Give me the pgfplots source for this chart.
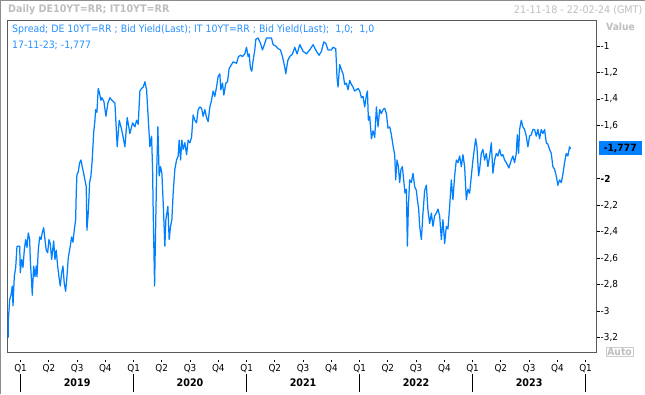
\documentclass[border=0pt]{standalone}
\usepackage{fontspec}
\setmainfont{DejaVu Sans}[FakeStretch=0.92]
\usepackage{pgfplots}
\pgfplotsset{compat=1.18}
\definecolor{lineblue}{RGB}{0,128,255}
\definecolor{txtblue}{RGB}{40,145,255}
\definecolor{hlblue}{RGB}{0,128,255}
\definecolor{ltgray}{RGB}{190,190,190}
\newcommand\ql[1]{\rule{0.8bp}{2bp}\\[0.2bp]Q#1}
\newcommand\fs[1]{\fontsize{#1bp}{#1bp}\selectfont}
\begin{document}
\begin{tikzpicture}
\fill[white] (0,0) rectangle (645bp,-394bp);
\draw[black!45, line width=1bp] (0.5bp,-394bp) -- (0.5bp,-0.5bp) -- (645bp,-0.5bp);
\begin{axis}[
  at={(7bp,-353bp)}, anchor=south west,
  width=590bp, height=333bp, scale only axis,
  xmin=7, xmax=597, ymin=-3.3135, ymax=-0.804,
  axis line style={draw=black!65, line width=0.8bp},
  font=\fs{9.6},
  ytick={-3.2,-3,-2.8,-2.6,-2.4,-2.2,-2,-1.6,-1.4,-1.2,-1},
  yticklabels={{-3,2},{-3},{-2,8},{-2,6},{-2,4},{-2,2},{\textbf{-2}},{-1,6},{-1,4},{-1,2},{-1}},
  ytick pos=right, yticklabel pos=right,
  major tick length=3bp, tick align=outside,
  ytick style={draw=black, line width=0.6bp},
  yticklabel style={inner sep=1bp, anchor=west},
  xtick={20.6,48.9,77.2,105.4,133.7,161.9,190.2,218.5,246.8,275.0,303.3,331.6,359.9,388.1,416.4,444.7,472.9,501.2,529.5,557.8,586.0},
  xticklabels={\ql1,\ql2,\ql3,\ql4,\ql1,\ql2,\ql3,\ql4,\ql1,\ql2,\ql3,\ql4,\ql1,\ql2,\ql3,\ql4,\ql1,\ql2,\ql3,\ql4,\ql1},
  xtick pos=bottom, xtick style={draw=none},
  xticklabel style={align=center, inner sep=0pt, yshift=-4bp},
  clip=true,
]
\addplot[lineblue, line width=1.25bp, line join=round] table[row sep=\\] {
x y\\
8.3 -3.20\\ 8.3 -3.08\\ 9.7 -2.91\\ 11 -2.88\\ 12.3 -2.81\\ 13 -2.96\\ 14.3 -2.74\\ 15.7 -2.67\\
17 -2.51\\ 19.7 -2.51\\ 20.3 -2.71\\ 21.7 -2.61\\ 23 -2.67\\ 24.3 -2.54\\ 25.7 -2.46\\ 27 -2.52\\
28.3 -2.41\\ 29.7 -2.46\\ 30.3 -2.61\\ 31.7 -2.79\\ 32.3 -2.88\\ 33.7 -2.66\\ 35 -2.74\\ 36.3 -2.66\\
37 -2.74\\ 38.3 -2.54\\ 39.7 -2.44\\ 41 -2.46\\ 42.3 -2.41\\ 43.7 -2.37\\ 45 -2.46\\ 46.3 -2.54\\
47.7 -2.56\\ 49 -2.46\\ 50.3 -2.49\\ 51.7 -2.61\\ 53.7 -2.47\\ 55 -2.61\\ 56.3 -2.54\\ 57.7 -2.66\\
59 -2.74\\ 60.3 -2.81\\ 61.7 -2.71\\ 63 -2.66\\ 64.3 -2.79\\ 65.7 -2.85\\ 67 -2.74\\ 68.3 -2.60\\
70.3 -2.51\\ 71.7 -2.44\\ 73 -2.48\\ 74.3 -2.39\\ 75.7 -2.31\\ 76.3 -2.11\\ 77 -1.97\\ 78.3 -1.95\\
79.7 -1.88\\ 81 -1.86\\ 82.3 -1.91\\ 83.7 -1.96\\ 85 -2.01\\ 86.3 -2.06\\ 87 -2.39\\ 88.3 -2.26\\
89.7 -2.03\\ 91 -1.98\\ 92.3 -1.86\\ 93.7 -1.66\\ 95 -1.56\\ 95.7 -1.48\\ 97 -1.50\\ 98.3 -1.32\\
99.7 -1.36\\ 101 -1.41\\ 102 -1.39\\ 104 -1.42\\ 106 -1.53\\ 108 -1.43\\ 110 -1.39\\ 112 -1.41\\
113.5 -1.42\\ 115 -1.43\\ 117.3 -1.76\\ 119.3 -1.56\\ 121.7 -1.63\\ 123 -1.68\\ 125 -1.76\\ 127.3 -1.54\\
130 -1.66\\ 132.7 -1.58\\ 135 -1.61\\ 136.7 -1.56\\ 138.3 -1.59\\ 140 -1.34\\ 141.7 -1.32\\ 143.3 -1.31\\
145 -1.27\\ 146.7 -1.33\\ 148.3 -1.54\\ 150 -1.76\\ 151.7 -1.68\\ 152.7 -1.93\\ 153.3 -2.24\\ 154.7 -2.81\\
155.3 -2.56\\ 156.7 -1.98\\ 158 -1.61\\ 159.3 -1.98\\ 160.7 -1.91\\ 162 -1.96\\ 163.3 -2.18\\ 165 -2.51\\
166 -2.31\\ 168 -2.21\\ 169.3 -2.46\\ 170.7 -2.36\\ 172 -2.31\\ 173.3 -2.11\\ 175 -1.93\\ 176.7 -1.86\\
178.3 -1.83\\ 179.3 -1.71\\ 180.7 -1.86\\ 182 -1.71\\ 183.3 -1.78\\ 185 -1.73\\ 186.7 -1.82\\ 188.3 -1.71\\
190 -1.73\\ 191.7 -1.69\\ 193.3 -1.52\\ 195 -1.56\\ 196.7 -1.58\\ 198.3 -1.48\\ 200 -1.46\\ 201.7 -1.47\\
203.3 -1.53\\ 205 -1.48\\ 206.7 -1.54\\ 208.3 -1.57\\ 210 -1.46\\ 211.7 -1.41\\ 213.3 -1.34\\ 215 -1.38\\
216.7 -1.31\\ 218.3 -1.23\\ 220 -1.21\\ 221 -1.33\\ 222.7 -1.28\\ 224 -1.37\\ 226 -1.28\\ 227.7 -1.27\\
229.3 -1.17\\ 231.7 -1.14\\ 233.3 -1.12\\ 236.7 -1.13\\ 238.7 -1.08\\ 240.7 -1.07\\ 242.7 -1.08\\ 245 -1.06\\
246.7 -1.01\\ 248.3 -1.08\\ 249.3 -1.06\\ 250.7 -1.17\\ 252 -1.19\\ 253.3 -1.11\\ 255 -1.03\\ 256 -0.95\\
258.3 -0.94\\ 260.7 -0.98\\ 262.7 -1.03\\ 265 -0.98\\ 266.7 -0.94\\ 271.7 -0.94\\ 273.3 -0.99\\ 276 -1.00\\
278.3 -1.02\\ 280.7 -1.03\\ 282.7 -1.08\\ 285 -1.16\\ 286 -1.21\\ 288 -1.11\\ 290 -1.08\\ 292.7 -1.06\\
295 -1.01\\ 297.3 -1.06\\ 300 -0.99\\ 303.3 -1.04\\ 306.7 -1.06\\ 310 -1.03\\ 313.3 -0.99\\ 316.7 -1.04\\
319.3 -1.07\\ 321.7 -1.04\\ 324 -0.97\\ 326 -0.98\\ 328.3 -1.03\\ 331.7 -1.03\\ 333.3 -1.01\\ 336 -1.02\\
337.3 -1.24\\ 338.3 -1.31\\ 340 -1.14\\ 341.7 -1.18\\ 343.3 -1.21\\ 345 -1.29\\ 346.7 -1.28\\ 348.3 -1.33\\
350 -1.26\\ 351.7 -1.29\\ 353.3 -1.31\\ 355 -1.34\\ 356.7 -1.33\\ 358.3 -1.32\\ 360 -1.34\\ 361.7 -1.39\\
363.3 -1.38\\ 365 -1.46\\ 366.7 -1.37\\ 367.7 -1.34\\ 368.7 -1.56\\ 370 -1.53\\ 371.7 -1.70\\ 373.3 -1.64\\
375 -1.69\\ 376.7 -1.46\\ 378.3 -1.61\\ 380 -1.48\\ 381.7 -1.51\\ 383.3 -1.48\\ 385 -1.47\\ 386.7 -1.51\\
388.3 -1.62\\ 390 -1.61\\ 391.7 -1.67\\ 393.3 -1.75\\ 395 -1.82\\ 396 -2.01\\ 397.3 -1.86\\ 398.7 -1.91\\
400 -2.03\\ 401.3 -1.93\\ 402.7 -1.91\\ 404 -2.01\\ 405.3 -2.11\\ 406.7 -2.08\\ 407.7 -2.51\\ 408.7 -2.21\\
410 -2.01\\ 411.7 -2.03\\ 413.3 -1.96\\ 415 -2.06\\ 416.7 -2.09\\ 417.7 -2.16\\ 419 -2.23\\ 420 -2.36\\
421.7 -2.46\\ 423.3 -2.26\\ 425 -2.09\\ 426.7 -2.05\\ 428.3 -2.24\\ 430 -2.34\\ 431.7 -2.26\\ 433.3 -2.36\\
435 -2.28\\ 436.7 -2.26\\ 438.3 -2.23\\ 440 -2.28\\ 441.7 -2.46\\ 443.3 -2.31\\ 445 -2.49\\ 446.7 -2.36\\
448.3 -2.38\\ 450 -2.21\\ 451.7 -2.01\\ 453.3 -2.16\\ 455 -1.98\\ 456.7 -1.86\\ 458.3 -1.88\\ 460 -1.83\\
461.7 -1.91\\ 463.3 -1.82\\ 465 -1.91\\ 466.7 -2.16\\ 468.3 -2.08\\ 470 -2.11\\ 471.7 -1.98\\ 473.3 -1.86\\
475 -1.76\\ 476 -1.70\\ 477.3 -1.76\\ 479 -1.98\\ 480 -1.93\\ 481.7 -1.81\\ 483.3 -1.78\\ 485 -1.86\\
486.7 -1.81\\ 488.3 -1.91\\ 490 -1.83\\ 491.7 -1.73\\ 493.3 -1.96\\ 495 -1.86\\ 496.7 -1.81\\ 498.3 -1.83\\
500 -1.78\\ 501.7 -1.83\\ 503.3 -1.82\\ 505 -1.86\\ 506.7 -1.88\\ 509.3 -1.92\\ 511.7 -1.86\\ 513.3 -1.83\\
515 -1.88\\ 516.7 -1.81\\ 517.7 -1.67\\ 519 -1.81\\ 520 -1.63\\ 521.7 -1.56\\ 523.3 -1.61\\ 525 -1.63\\
526.7 -1.68\\ 528.3 -1.76\\ 530 -1.68\\ 531.7 -1.67\\ 533.3 -1.63\\ 535 -1.63\\ 536.7 -1.68\\ 538.3 -1.63\\
540 -1.70\\ 541.7 -1.63\\ 543.3 -1.66\\ 545 -1.63\\ 546.7 -1.73\\ 548.3 -1.74\\ 550 -1.78\\ 551.7 -1.81\\
553.3 -1.91\\ 555 -1.93\\ 556.7 -1.98\\ 558.3 -2.05\\ 560 -2.01\\ 561.7 -2.03\\ 563.3 -1.97\\ 565 -1.88\\
566.7 -1.81\\ 568.3 -1.83\\ 570 -1.76\\ 571 -1.777\\
};
\end{axis}
% header texts
\node[anchor=west, text=ltgray, font=\fs{10.4}\bfseries, inner sep=0pt] at (8bp,-10bp) {Daily DE10YT=RR; IT10YT=RR};
\node[anchor=east, text=ltgray, font=\fs{10.4}, inner sep=0pt] at (643bp,-10bp) {21-11-18 - 22-02-24 (GMT)};
\node[text=ltgray, font=\fs{10}\bfseries, inner sep=0pt] at (621bp,-27bp) {Value};
\node[draw=black!20, text=ltgray, font=\fs{10}\bfseries, inner sep=1bp] at (620bp,-352bp) {Auto};
% legend texts
\node[anchor=west, text=txtblue, font=\fs{10.2}, inner sep=0pt] at (12bp,-30bp) {Spread; DE 10YT=RR ; Bid Yield(Last); IT 10YT=RR ; Bid Yield(Last);\ \ 1,0;\ \ 1,0};
\node[anchor=west, text=txtblue, font=\fs{10.2}, inner sep=0pt] at (12bp,-45bp) {17-11-23; -1,777};
% highlighted last value
\node[anchor=west, fill=hlblue, text=black, font=\fs{10}\bfseries, minimum height=14bp, minimum width=43bp, inner sep=1bp] at (599bp,-148.5bp) {-1,777};
% year separators and labels
\foreach \xx in {20.6,133.7,246.8,359.9,472.9,586.0}{
  \draw[black, line width=0.8bp] (\xx bp,-374bp) -- (\xx bp,-392bp);
}
\foreach \xx/\yy in {77.2/2019,190.2/2020,303.3/2021,416.4/2022,529.5/2023}{
  \node[font=\fs{10.4}\bfseries, inner sep=0pt] at (\xx bp,-383bp) {\yy};
}
\end{tikzpicture}
\end{document}
